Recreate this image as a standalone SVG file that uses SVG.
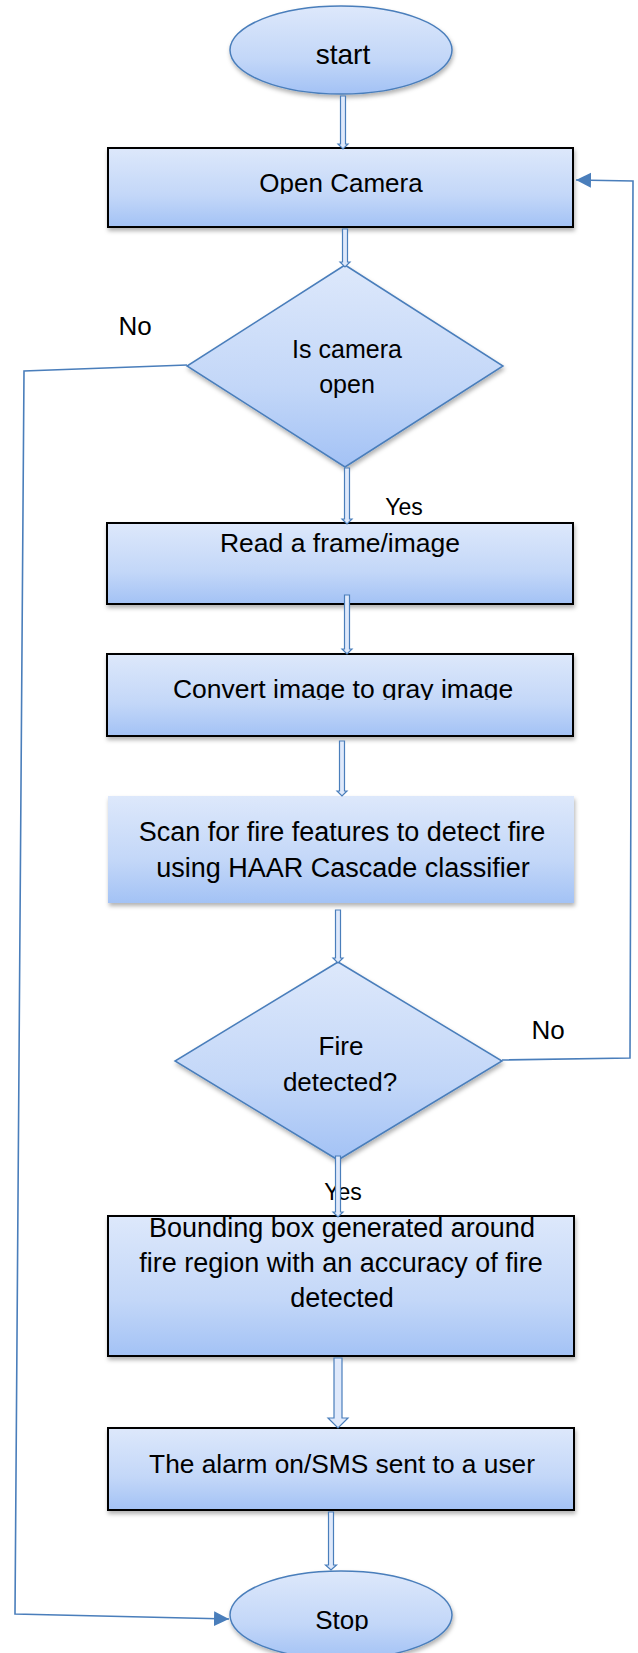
<svg xmlns="http://www.w3.org/2000/svg" width="638" height="1653" viewBox="0 0 638 1653">
<style>
  .t { font-family: "Liberation Sans", Arial, sans-serif; font-size: 26px; fill: #000; text-anchor: middle; }
  .shape { fill: url(#g); stroke: #4a7ebb; stroke-width: 1.5; filter: url(#sh); }
  .box { fill: url(#g); stroke: #000; stroke-width: 2; filter: url(#sh); }
  .flat { fill: url(#g); stroke: none; filter: url(#sh); }
  .blk { fill: #dfe9fb; stroke: #4a7ebb; stroke-width: 1.2; }
  .ln { fill: none; stroke: #4a7ebb; stroke-width: 1.6; }
</style>
<defs>
  <linearGradient id="g" x1="0" y1="0" x2="0" y2="1">
    <stop offset="0" stop-color="#dde8fb"/>
    <stop offset="0.6" stop-color="#c3d7f8"/>
    <stop offset="1" stop-color="#a3c2f5"/>
  </linearGradient>
  <filter id="sh" x="-10%" y="-10%" width="125%" height="135%">
    <feDropShadow dx="1" dy="3" stdDeviation="2" flood-color="#000" flood-opacity="0.3"/>
  </filter>
  <marker id="ah" markerWidth="16" markerHeight="16" refX="15" refY="8" orient="auto" markerUnits="userSpaceOnUse">
    <path d="M0,0.5 L15,8 L0,15.5 Z" fill="#4a7ebb"/>
  </marker>
  <clipPath id="c1" clipPathUnits="userSpaceOnUse"><rect x="100" y="150" width="480" height="44"/></clipPath>
  <clipPath id="c2" clipPathUnits="userSpaceOnUse"><rect x="100" y="656" width="480" height="44"/></clipPath>
  <clipPath id="c3" clipPathUnits="userSpaceOnUse"><rect x="230" y="1575" width="230" height="56"/></clipPath>
</defs>
<rect width="638" height="1653" fill="#fff"/>

<g id="start">
  <ellipse class="shape" cx="341" cy="50" rx="111" ry="44"/>
  <text class="t" x="343" y="64" style="font-size:28px">start</text>
</g>
<g id="open-camera">
  <rect class="box" x="108" y="148" width="465" height="79"/>
  <text class="t" x="341" y="192" clip-path="url(#c1)">Open Camera</text>
</g>
<g id="is-camera-open">
  <polygon class="shape" points="345,265 503,366 345,467 187,366"/>
  <text class="t" x="347" y="358" style="font-size:25px">Is camera</text>
  <text class="t" x="347" y="393" style="font-size:25px">open</text>
</g>
<g id="read-frame">
  <rect class="box" x="107" y="523" width="466" height="81"/>
  <text class="t" x="340" y="552" style="font-size:26.5px">Read a frame/image</text>
</g>
<g id="convert-gray">
  <rect class="box" x="107" y="654" width="466" height="82"/>
  <text class="t" x="343" y="698" style="font-size:26.5px" clip-path="url(#c2)">Convert image to gray image</text>
</g>
<g id="scan-haar">
  <rect class="flat" x="108" y="796" width="466" height="107"/>
  <text class="t" x="342" y="841" style="font-size:27px">Scan for fire features to detect fire</text>
  <text class="t" x="343" y="877" style="font-size:27px">using HAAR Cascade classifier</text>
</g>
<g id="fire-detected">
  <polygon class="shape" points="338,962 502,1061 338,1160 175,1061"/>
  <text class="t" x="341" y="1055">Fire</text>
  <text class="t" x="340" y="1091">detected?</text>
</g>
<g id="bounding-box">
  <rect class="box" x="108" y="1216" width="466" height="140"/>
  <text class="t" x="342" y="1237" style="font-size:27px">Bounding box generated around</text>
  <text class="t" x="341" y="1272" style="font-size:27px">fire region with an accuracy of fire</text>
  <text class="t" x="342" y="1307" style="font-size:27px">detected</text>
</g>
<g id="alarm">
  <rect class="box" x="108" y="1428" width="466" height="82"/>
  <text class="t" x="342" y="1473" style="font-size:26.3px">The alarm on/SMS sent to a user</text>
</g>
<g id="stop">
  <ellipse class="shape" cx="341" cy="1615" rx="111" ry="44"/>
  <text class="t" x="342" y="1629" clip-path="url(#c3)">Stop</text>
</g>

<g id="labels">
  <text class="t" x="135" y="335">No</text>
  <text class="t" x="404" y="515" style="font-size:23px">Yes</text>
  <text class="t" x="548" y="1039">No</text>
  <text class="t" x="343" y="1200" style="font-size:23px">Yes</text>
</g>

<g id="connectors">
  <path class="blk" d="M340.5,96 L345.5,96 L345.5,144 L348,144 L343,149 L338,144 L340.5,144 Z"/>
  <path class="blk" d="M342.5,229 L347.5,229 L347.5,262 L350,262 L345,267 L340,262 L342.5,262 Z"/>
  <path class="blk" d="M344.5,468 L349.5,468 L349.5,519 L352,519 L347,524 L342,519 L344.5,519 Z"/>
  <path class="blk" d="M344.5,595 L349.5,595 L349.5,649 L352,649 L347,654 L342,649 L344.5,649 Z"/>
  <path class="blk" d="M339.5,741 L344.5,741 L344.5,791 L347,791 L342,796 L337,791 L339.5,791 Z"/>
  <path class="blk" d="M335.5,910 L340.5,910 L340.5,958 L343,958 L338,963 L333,958 L335.5,958 Z"/>
  <path class="blk" d="M335.5,1156 L340.5,1156 L340.5,1212 L343,1212 L338,1217 L333,1212 L335.5,1212 Z"/>
  <path class="blk" d="M334,1358 L342,1358 L342,1418 L348,1418 L338,1428 L328,1418 L334,1418 Z"/>
  <path class="blk" d="M328.5,1512 L333.5,1512 L333.5,1565 L336.5,1565 L331,1570 L325.5,1565 L328.5,1565 Z"/>
  <polyline class="ln" points="187,365 24,371 15,1614 229,1619" marker-end="url(#ah)"/>
  <polyline class="ln" points="502,1060 630,1058 633,181 576,180" marker-end="url(#ah)"/>
</g>
</svg>
